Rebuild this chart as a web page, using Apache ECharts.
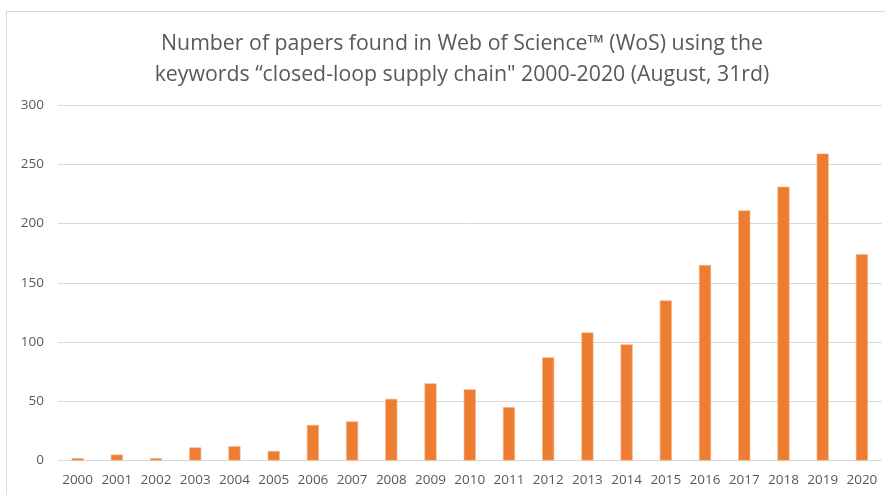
<!DOCTYPE html>
<html>
<head>
<meta charset="utf-8">
<script src="https://cdn.jsdelivr.net/npm/echarts@6/dist/echarts.min.js"></script>
<style>
html,body{margin:0;padding:0;background:#fff;}
#chart{width:885px;height:495px;}
</style>
</head>
<body>
<div id="chart"></div>
<script>
const years = ['2000','2001','2002','2003','2004','2005','2006','2007','2008','2009','2010','2011','2012','2013','2014','2015','2016','2017','2018','2019','2020'];
const papers = [2, 5, 2, 11, 12, 8, 30, 33, 52, 65, 60, 45, 87, 108, 98, 135, 165, 211, 231, 259, 174];
const yTicks = [0, 50, 100, 150, 200, 250, 300];
const titleText = 'Number of papers found in Web of Science™ (WoS) using the\nkeywords “closed-loop supply chain" 2000-2020 (August, 31rd)';

const chart = echarts.init(document.getElementById('chart'), null, {renderer: 'canvas'});
const font = '"Open Sans", "Noto Sans", sans-serif';
chart.setOption({
  animation: false,
  backgroundColor: '#fff',
  title: {
    text: titleText,
    left: 457,
    top: 24,
    textAlign: 'center',
    textStyle: {fontFamily: font, fontSize: 21.3, fontWeight: 'normal', color: '#595959', lineHeight: 30.5}
  },
  graphic: [{
    type: 'rect',
    shape: {x: 6.5, y: 11.5, width: 1000, height: 600},
    style: {fill: 'none', stroke: '#d9d9d9', lineWidth: 1},
    silent: true
  }],
  grid: {left: 58, right: 3.5, top: 105, bottom: 34.5},
  xAxis: {
    type: 'category',
    data: years,
    axisTick: {show: false},
    axisLine: {show: true, lineStyle: {color: '#d9d9d9', width: 1}},
    axisLabel: {fontFamily: font, fontSize: 13.5, color: '#595959', margin: 13, interval: 0}
  },
  yAxis: {
    type: 'value',
    min: yTicks[0],
    max: yTicks[yTicks.length - 1],
    interval: 50,
    axisLine: {show: false},
    axisTick: {show: false},
    splitLine: {lineStyle: {color: '#d9d9d9', width: 1}},
    axisLabel: {fontFamily: font, fontSize: 13.5, color: '#595959', margin: 14}
  },
  series: [{
    type: 'bar',
    data: papers,
    barWidth: 12,
    itemStyle: {color: '#ED7D31', borderColor: '#F4B183', borderWidth: 0.6}
  }]
});
</script>
</body>
</html>
